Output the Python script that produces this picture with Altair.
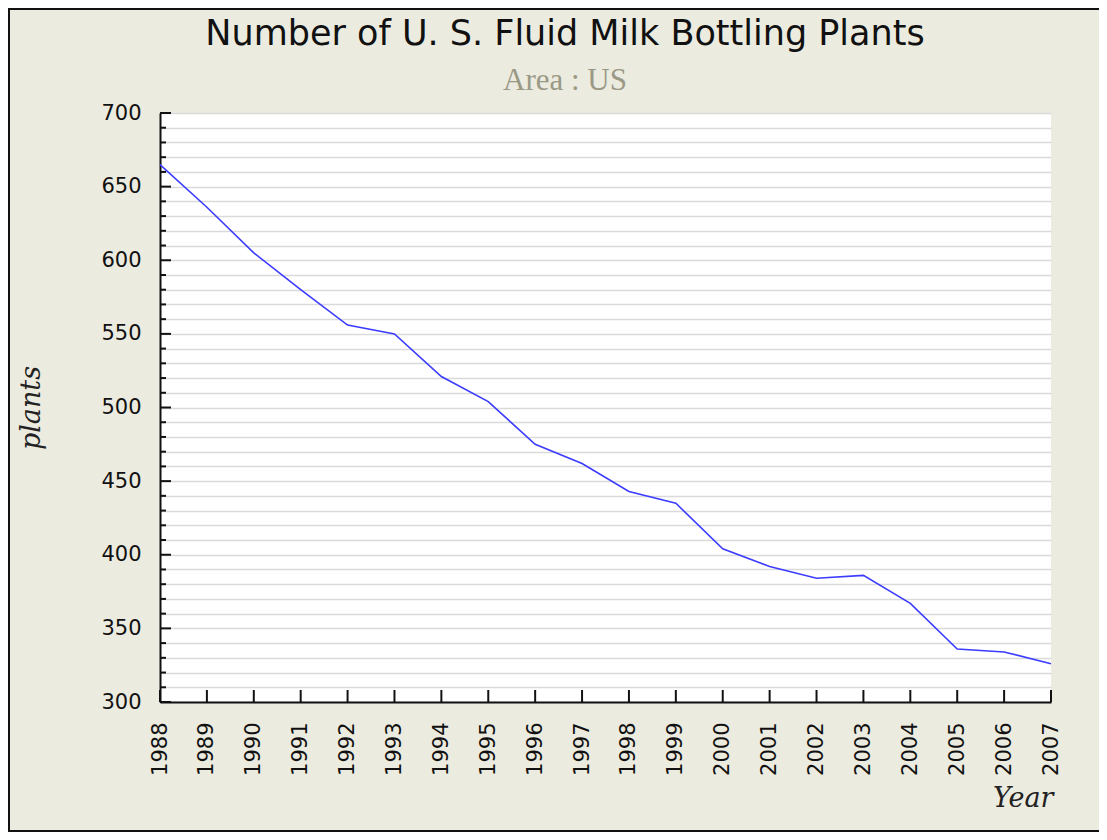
import altair as alt
import pandas as pd

years = list(range(1988, 2008))
plants = [665, 636, 605, 580, 556, 550, 521, 504, 475, 462,
          443, 435, 404, 392, 384, 386, 367, 336, 334, 326]

y_ticks_major = [300, 350, 400, 450, 500, 550, 600, 650, 700]
y_ticks_all = list(range(300, 701, 10))
y_ticks_minor = [v for v in y_ticks_all if v not in y_ticks_major]

title_text = "Number of U. S. Fluid Milk Bottling Plants"
subtitle_text = "Area : US"

W, H = 891, 589
PAD = {"left": 152, "top": 105, "right": 48, "bottom": 130}

df = pd.DataFrame({"Year": years, "plants": plants})

xscale = alt.Scale(domain=[1988, 2007], nice=False, zero=False)
yscale = alt.Scale(domain=[300, 700], nice=False, zero=False)

xaxis = alt.Axis(values=years, format="d", labelAngle=270,
                 labelAlign="right", labelBaseline="middle",
                 labelPadding=20, ticks=False, grid=False,
                 domainColor="#111", domainWidth=2,
                 labelFont="DejaVu Sans", labelFontSize=21,
                 labelColor="#111", labelOverlap=False,
                 titleFont="DejaVu Serif",
                 titleFontStyle="italic", titleFontWeight="normal",
                 titleFontSize=27, titleColor="#222",
                 titleX=893, titleY=104, titleAlign="right",
                 titleBaseline="alphabetic")
yaxis = alt.Axis(values=y_ticks_all,
                 labelExpr="datum.value % 50 === 0 ? datum.label : ''",
                 ticks=False, grid=True, gridColor="#dadada",
                 gridWidth=1.6, domainColor="#111", domainWidth=2,
                 labelFont="DejaVu Sans", labelFontSize=21,
                 labelColor="#111", labelPadding=19,
                 labelOverlap=False,
                 titleFont="DejaVu Serif",
                 titleFontStyle="italic", titleFontWeight="normal",
                 titleFontSize=27, titleColor="#222",
                 titleAngle=270, titleX=-129, titleY=H / 2,
                 titleAlign="center", titleBaseline="middle")

line = alt.Chart(df).mark_line(color="#3c3cff", strokeWidth=1.6).encode(
    x=alt.X("Year:Q", scale=xscale, axis=xaxis, title="Year"),
    y=alt.Y("plants:Q", scale=yscale, axis=yaxis, title="plants"),
)

ymaj = alt.Chart(pd.DataFrame({"plants": y_ticks_major})).mark_rule(
    color="#111", strokeWidth=2).encode(
    y=alt.Y("plants:Q", scale=yscale, axis=yaxis, title="plants"),
    x=alt.value(0), x2=alt.value(11))
ymin = alt.Chart(pd.DataFrame({"plants": y_ticks_minor})).mark_rule(
    color="#111", strokeWidth=2).encode(
    y=alt.Y("plants:Q", scale=yscale, axis=yaxis, title="plants"),
    x=alt.value(0), x2=alt.value(6))
xt = alt.Chart(pd.DataFrame({"Year": years})).mark_rule(
    color="#111", strokeWidth=2).encode(
    x=alt.X("Year:Q", scale=xscale, axis=xaxis, title="Year"),
    y=alt.value(H), y2=alt.value(H - 12))

one = alt.Data(values=[{}])
title = alt.Chart(one).mark_text(
    text=title_text, font="DejaVu Sans", fontSize=35, color="#111",
    align="center", baseline="alphabetic").encode(
    x=alt.value(405), y=alt.value(-68))
subtitle = alt.Chart(one).mark_text(
    text=subtitle_text, font="Liberation Serif", fontSize=31, color="#9a9985",
    align="center", baseline="alphabetic").encode(
    x=alt.value(405), y=alt.value(-23))
border = alt.Chart(one).mark_rect(
    filled=False, stroke="#111", strokeWidth=2).encode(
    x=alt.value(-151), x2=alt.value(W + PAD["right"] + 5),
    y=alt.value(-104), y2=alt.value(H + PAD["bottom"] - 1))

chart = alt.layer(line, ymaj, ymin, xt, title, subtitle, border).properties(
    width=W, height=H, padding=PAD,
    autosize=alt.AutoSizeParams(type="none"),
    background="#ecebe0",
).configure_view(fill="white", strokeWidth=0)

chart.save("out.html", embed_options={"renderer": "svg", "actions": False})
